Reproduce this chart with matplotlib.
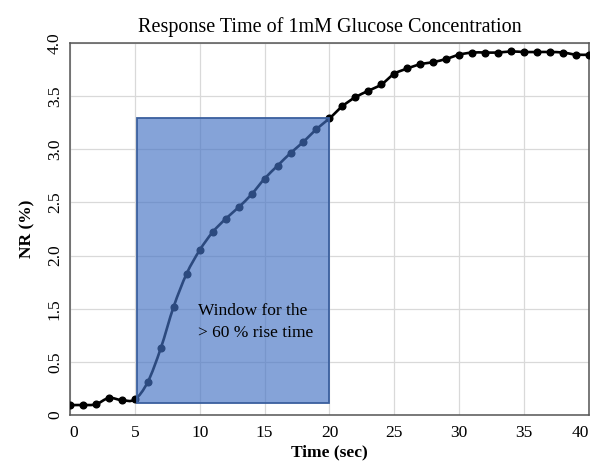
import matplotlib.pyplot as plt
import numpy as np
from matplotlib.path import Path
from matplotlib.patches import PathPatch, Rectangle

plt.rcParams['font.family'] = ['Liberation Serif', 'DejaVu Serif']

# response curve, one reading per second
tempo = list(range(0, 41))
nr = [0.094, 0.094, 0.10, 0.16, 0.14, 0.146, 0.31, 0.626, 1.02, 1.33,
      1.55, 1.72, 1.845, 1.954, 2.076, 2.223, 2.345, 2.464, 2.57, 2.69,
      2.79, 2.905, 2.99, 3.05, 3.11, 3.21, 3.26, 3.30, 3.32, 3.35,
      3.39, 3.41, 3.41, 3.41, 3.42, 3.415, 3.415, 3.415, 3.41, 3.39, 3.39]

# eixo y com rótulos do gráfico original (sem o 1.0)
yticks = [0, 0.5, 1.0, 1.5, 2.0, 2.5, 3.0, 3.5]
ylabels = ['0', '0.5', '1.5', '2.0', '2.5', '3.0', '3.5', '4.0']
xticks = [0, 5, 10, 15, 20, 25, 30, 35, 40]

# janela do tempo de subida
jan_x0, jan_x1 = 5.2, 20.0
jan_y0, jan_y1 = 0.11, 2.79


def linha_suave(x, y):
    # bezier tipo catmull-rom, como a linha suavizada do excel
    pts = np.column_stack([x, y]).astype(float)
    verts = [pts[0]]
    codes = [Path.MOVETO]
    n = len(pts)
    for i in range(n - 1):
        p0 = pts[max(i - 1, 0)]
        p1 = pts[i]
        p2 = pts[i + 1]
        p3 = pts[min(i + 2, n - 1)]
        c1 = p1 + (p2 - p0) / 6
        c2 = p2 - (p3 - p1) / 6
        verts += [c1, c2, p2]
        codes += [Path.CURVE4] * 3
    return Path(verts, codes)


fig = plt.figure(figsize=(5.92, 4.63), dpi=100)
ax = fig.add_axes([0.118, 0.1037, 0.877, 0.8035])

ax.add_patch(PathPatch(linha_suave(tempo, nr), fill=False, edgecolor='black',
                       lw=1.9, zorder=3, capstyle='round'))
ax.plot(tempo, nr, ls='none', marker='o', ms=4.8, color='black', zorder=4)

ax.add_patch(Rectangle((jan_x0, jan_y0), jan_x1 - jan_x0, jan_y1 - jan_y0,
                       facecolor='#4472C4', alpha=0.65, edgecolor='none', zorder=5))
ax.add_patch(Rectangle((jan_x0, jan_y0), jan_x1 - jan_x0, jan_y1 - jan_y0,
                       facecolor='none', edgecolor='#3A5F9E', lw=1.3, zorder=6))

ax.text(9.9, 1.05, 'Window for the\n> 60 % rise time', fontsize=12.5,
        ha='left', va='top', linespacing=1.45, zorder=7)

ax.set_xlim(0, 40)
ax.set_ylim(0, 3.5)
ax.set_xticks(xticks)
ax.set_yticks(yticks)
ax.set_yticklabels(ylabels, rotation=90, va='center')
ax.tick_params(length=0, labelsize=12.5)
ax.tick_params(axis='y', pad=5)
ax.tick_params(axis='x', pad=7)
xl = ax.get_xticklabels()
xl[0].set_horizontalalignment('left')
xl[-1].set_horizontalalignment('right')

ax.grid(True, color='#d9d9d9', lw=0.9)
ax.set_axisbelow(True)
for s in ax.spines.values():
    s.set_color('#555555')
    s.set_linewidth(1.1)

ax.set_title('Response Time of 1mM Glucose Concentration', fontsize=14.5, pad=8)
ax.set_xlabel('Time (sec)', fontsize=12.5, fontweight='bold', labelpad=3)
ax.set_ylabel('NR (%)', fontsize=12.5, fontweight='bold', labelpad=8)

fig.savefig('out.png', dpi=100)
